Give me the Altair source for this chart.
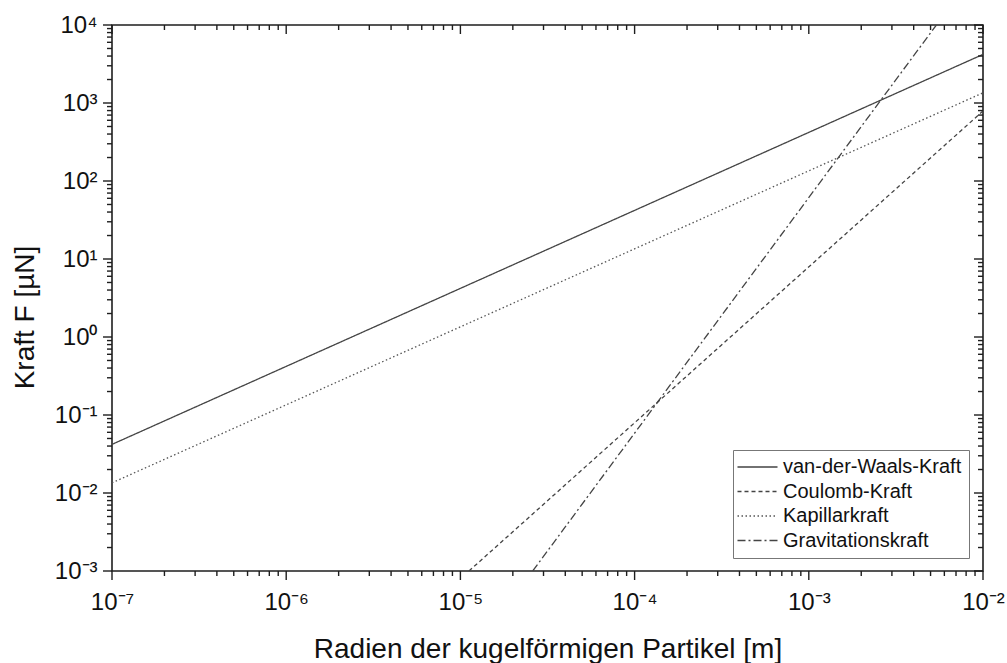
import json

import altair as alt
import pandas as pd

# Force on a spherical particle versus its radius (log-log)
SERIES = ["van-der-Waals-Kraft", "Coulomb-Kraft", "Kapillarkraft", "Gravitationskraft"]

# Radius [m] and force [µN] at the ends of each visible line
vdw_r = [1e-7, 1e-2]
vdw_f = [0.042, 4200.0]
coulomb_r = [1.12e-5, 1e-2]
coulomb_f = [1e-3, 790.0]
kapillar_r = [1e-7, 1e-2]
kapillar_f = [0.0135, 1350.0]
grav_r = [2.6e-5, 5.4e-3]
grav_f = [1e-3, 1e4]

# Axis ranges, ticks and their labels
x_edges = [1e-7, 1e-2]
y_edges = [1e-3, 1e4]
x_major = [1e-7, 1e-6, 1e-5, 1e-4, 1e-3, 1e-2]
x_labels = ["10⁻⁷", "10⁻⁶", "10⁻⁵", "10⁻⁴", "10⁻³", "10⁻²"]
y_major = [1e-3, 1e-2, 1e-1, 1e0, 1e1, 1e2, 1e3, 1e4]
y_labels = ["10⁻³", "10⁻²", "10⁻¹", "10⁰", "10¹", "10²", "10³", "10⁴"]
minor_steps = [2, 3, 4, 5, 6, 7, 8, 9]
x_minor = [m * d for d in x_major[:-1] for m in minor_steps]
y_minor = [m * d for d in y_major[:-1] for m in minor_steps]

W, H = 871, 546
FONT = "Liberation Sans"
INK = "#1e1e1e"
TEXT = "#111111"
MAJOR_LEN, MINOR_LEN = 9, 5

rows = []
for name, rs, fs in zip(SERIES, [vdw_r, coulomb_r, kapillar_r, grav_r],
                        [vdw_f, coulomb_f, kapillar_f, grav_f]):
    for r, f in zip(rs, fs):
        rows.append({"series": name, "r": r, "f": f})
df = pd.DataFrame(rows)

x_scale = alt.Scale(type="log", domain=x_edges, nice=False)
y_scale = alt.Scale(type="log", domain=y_edges, nice=False)

x_label_expr = "%s[round(log(datum.value)/LN10)+7]" % json.dumps(x_labels, ensure_ascii=False)
y_label_expr = "%s[round(log(datum.value)/LN10)+3]" % json.dumps(y_labels, ensure_ascii=False)

# one axis definition per channel, shared by every layer so they merge cleanly
X_AXIS = alt.Axis(
    orient="bottom", values=x_major, labelExpr=x_label_expr,
    ticks=False, tickSize=0, domain=False, grid=False,
    labelPadding=19, labelFont=FONT, labelFontSize=24, labelColor=TEXT,
    labelFlush=False, labelOverlap=False,
    title="Radien der kugelförmigen Partikel [m]", titleFont=FONT, titleColor=TEXT,
    titleFontWeight="normal", titleFontSize=28, titleY=86, titleBaseline="alphabetic",
)
Y_AXIS = alt.Axis(
    orient="left", values=y_major, labelExpr=y_label_expr,
    ticks=False, tickSize=0, domain=False, grid=False,
    labelPadding=15, labelFont=FONT, labelFontSize=24, labelColor=TEXT,
    labelFlush=False, labelOverlap=False,
    title="Kraft F [µN]", titleFont=FONT, titleColor=TEXT, titleFontWeight="normal",
    titleFontSize=28, titleX=-79, titleY=292, titleBaseline="alphabetic", titleAngle=270,
)

legend = alt.Legend(
    title=None, orient="none", legendX=621, legendY=425,
    symbolType="M-4,0H4", symbolSize=100, symbolStrokeWidth=1.3, symbolOffset=7.5,
    labelFont=FONT, labelFontSize=20, labelColor=TEXT, labelOffset=15.5, labelLimit=400,
    strokeColor="#777", fillColor="white", padding=7, rowPadding=4.5,
)

lines = alt.Chart(df).mark_line(clip=True, strokeWidth=1.3).encode(
    x=alt.X("r:Q", scale=x_scale, axis=X_AXIS),
    y=alt.Y("f:Q", scale=y_scale, axis=Y_AXIS),
    color=alt.Color("series:N", scale=alt.Scale(domain=SERIES, range=["#444", "#444", "#555", "#444"]),
                    legend=legend),
    strokeDash=alt.StrokeDash("series:N", scale=alt.Scale(
        domain=SERIES, range=[[1, 0], [4, 3], [1.5, 2.5], [8, 3, 2, 3]]), legend=legend),
)


def x_ticks(values, length):
    # tick marks along the bottom and top edges, all pointing downwards
    d = pd.DataFrame([{"v": v, "edge": e} for v in values for e in y_edges])
    return alt.Chart(d).mark_tick(
        orient="vertical", size=length, thickness=1.4, color=INK, opacity=1, yOffset=length / 2
    ).encode(
        x=alt.X("v:Q", scale=x_scale, axis=X_AXIS),
        y=alt.Y("edge:Q", scale=y_scale, axis=Y_AXIS),
    )


def y_ticks(values, length):
    # tick marks along the left and right edges, all pointing to the left
    d = pd.DataFrame([{"v": v, "edge": e} for v in values for e in x_edges])
    return alt.Chart(d).mark_tick(
        orient="horizontal", size=length, thickness=1.4, color=INK, opacity=1, xOffset=-length / 2
    ).encode(
        x=alt.X("edge:Q", scale=x_scale, axis=X_AXIS),
        y=alt.Y("v:Q", scale=y_scale, axis=Y_AXIS),
    )


chart = alt.layer(
    lines,
    x_ticks(x_major, MAJOR_LEN), x_ticks(x_minor, MINOR_LEN),
    y_ticks(y_major, MAJOR_LEN), y_ticks(y_minor, MINOR_LEN),
).properties(
    width=W, height=H,
    autosize=alt.AutoSizeParams(type="none"),
    padding={"left": 112, "top": 25, "right": 24, "bottom": 92},
    background="white",
).configure_view(stroke=INK, strokeWidth=1.6)

chart.save("out.html", embed_options={"renderer": "svg", "actions": False})
